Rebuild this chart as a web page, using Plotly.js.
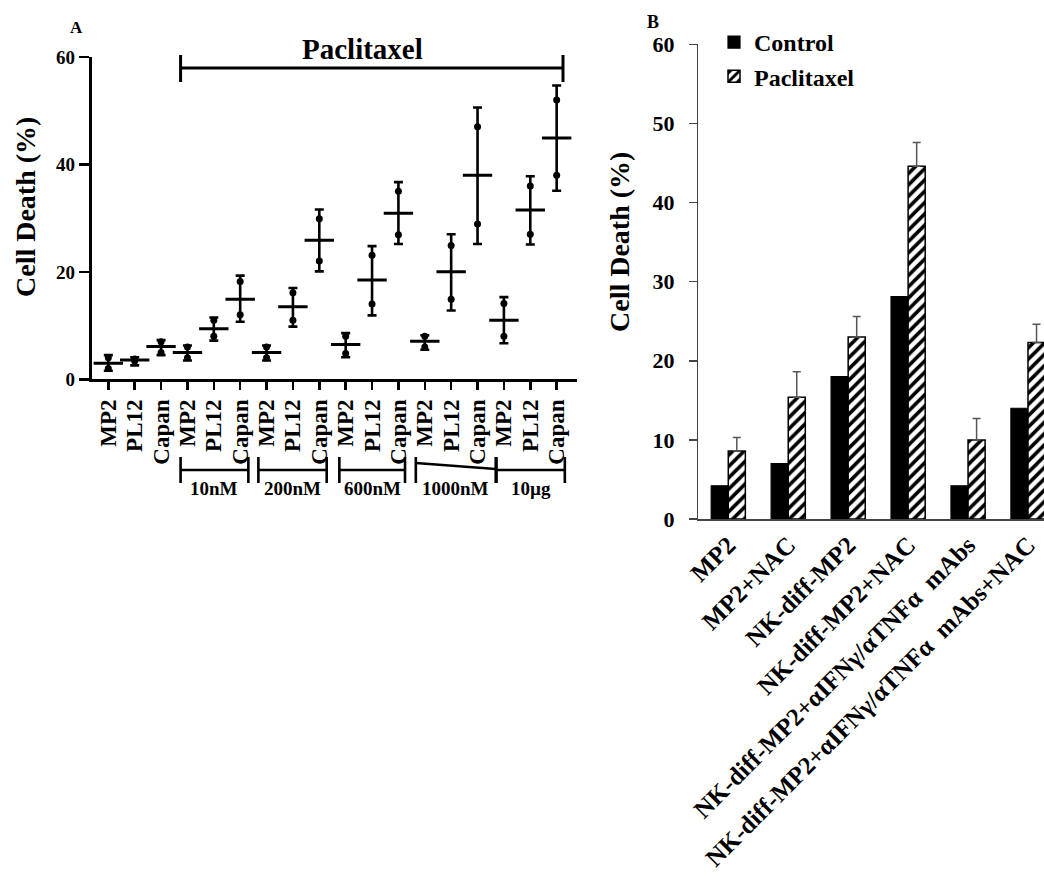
<!DOCTYPE html>
<html>
<head>
<meta charset="utf-8">
<script src="https://cdn.plot.ly/plotly-3.0.1.min.js"></script>
<style>html,body{margin:0;padding:0;background:#fff;}#chart{width:1044px;height:877px;}
#chart .legendtext{font-family:"Liberation Serif","Times New Roman",serif !important;font-weight:bold !important;}</style>
</head>
<body>
<div id="chart"></div>
<script>
// ---------- Panel A data ----------
const cellLinesA = ["MP2","PL12","Capan","MP2","PL12","Capan","MP2","PL12","Capan","MP2","PL12","Capan","MP2","PL12","Capan","MP2","PL12","Capan"];
const meanA = [3.0, 3.6, 6.1, 5.0, 9.4, 14.9, 5.0, 13.5, 25.9, 6.5, 18.5, 30.9, 7.1, 20.0, 38.0, 11.0, 31.5, 44.9];
const highA = [4.5, 4.1, 7.3, 6.3, 11.5, 19.3, 6.3, 17.0, 31.6, 8.6, 24.8, 36.7, 8.2, 27.0, 50.6, 15.3, 37.8, 54.7];
const lowA  = [1.6, 2.6, 4.5, 3.5, 7.2, 10.7, 3.5, 9.8, 20.1, 4.1, 11.9, 25.2, 5.5, 12.8, 25.2, 6.7, 25.1, 35.1];
const pointUpperA = [4.0, 3.8, 7.0, 6.0, 11.0, 18.2, 6.0, 16.1, 29.9, 8.0, 23.1, 35.0, 8.0, 24.9, 47.0, 14.1, 36.0, 52.0];
const pointLowerA = [2.0, 3.4, 5.0, 4.0, 8.0, 12.0, 4.0, 11.0, 22.0, 4.8, 14.0, 26.9, 6.0, 14.9, 28.9, 8.0, 27.0, 38.0];
const concLabelsA = ["10nM","200nM","600nM","1000nM","10µg"];

// ---------- Panel B data ----------
const groupsB = ["MP2","MP2+NAC","NK-diff-MP2","NK-diff-MP2+NAC","NK-diff-MP2+αIFNγ/αTNFα  mAbs","NK-diff-MP2+αIFNγ/αTNFα  mAbs+NAC"];
const controlB = [4.2, 7.0, 18.0, 28.1, 4.2, 14.0];
const paclitaxelB = [8.6, 15.4, 23.0, 44.6, 10.0, 22.3];
const paclitaxelErrB = [1.7, 3.2, 2.6, 3.0, 2.7, 2.3];

// ---------- helpers / layout constants ----------
const W = 1044, H = 877;
const px = x => x / W;
const py = y => 1 - y / H;
const FONT = "Liberation Serif, Times New Roman, serif";
const bold = (size, color) => ({family: FONT, size: size, color: color || "#000", weight: "bold"});
const idxA = cellLinesA.map((_, i) => i);

// bracket geometry (x in category units of panel A, y in pixels)
const bracketStart = [2.74, 5.69, 8.76, 11.66, 14.72];
const bracketEnd   = [5.31, 8.28, 11.25, 14.69, 17.31];
const bracketYL    = [470, 470, 470, 463, 470];
const bracketYR    = [470, 470, 470, 469, 470];

const traces = [
  {
    x: idxA, y: meanA, type: "scatter", mode: "markers", xaxis: "x", yaxis: "y",
    showlegend: false, hoverinfo: "skip",
    marker: {symbol: "line-ew", size: 21, color: "#000", line: {width: 3, color: "#000"}},
    error_y: {type: "data", symmetric: false,
      array: highA.map((h, i) => h - meanA[i]),
      arrayminus: lowA.map((l, i) => meanA[i] - l),
      color: "#000", thickness: 2.6, width: 4.5}
  },
  {
    x: idxA.concat(idxA), y: pointUpperA.concat(pointLowerA), type: "scatter", mode: "markers",
    xaxis: "x", yaxis: "y", showlegend: false, hoverinfo: "skip",
    marker: {symbol: "circle", size: 7, color: "#000"}
  },
  {
    x: groupsB, y: controlB, type: "bar", name: "Control", xaxis: "x2", yaxis: "y2",
    marker: {color: "#000", line: {color: "#000", width: 1.2}}
  },
  {
    x: groupsB, y: paclitaxelB, type: "bar", name: "Paclitaxel", xaxis: "x2", yaxis: "y2",
    marker: {color: "#fff", line: {color: "#000", width: 1.5},
      pattern: {shape: "/", fgcolor: "#000", bgcolor: "#fff", size: 8, solidity: 0.45}},
    error_y: {type: "data", symmetric: false, array: paclitaxelErrB, arrayminus: paclitaxelErrB.map(() => 0),
      color: "#555", thickness: 1.5, width: 4}
  }
];

const shapes = [];
const annotations = [];
const lineStyle = {color: "#000", width: 2.6};
for (let i = 0; i < concLabelsA.length; i++) {
  const a = bracketStart[i], b = bracketEnd[i];
  shapes.push({type: "line", xref: "x", yref: "paper", x0: a, x1: b, y0: py(bracketYL[i]), y1: py(bracketYR[i]), line: lineStyle});
  shapes.push({type: "line", xref: "x", yref: "paper", x0: a, x1: a, y0: py(457), y1: py(483), line: lineStyle});
  shapes.push({type: "line", xref: "x", yref: "paper", x0: b, x1: b, y0: py(457), y1: py(483), line: lineStyle});
  annotations.push({xref: "x", yref: "paper", x: (a + b) / 2, y: py(488), text: concLabelsA[i],
    showarrow: false, xanchor: "center", yanchor: "middle", font: bold(19)});
}
// Paclitaxel bracket on top of panel A
shapes.push({type: "line", xref: "x", yref: "paper", x0: 2.74, x1: 17.24, y0: py(68), y1: py(68), line: {color: "#000", width: 3}});
shapes.push({type: "line", xref: "x", yref: "paper", x0: 2.74, x1: 2.74, y0: py(55), y1: py(82), line: {color: "#000", width: 3}});
shapes.push({type: "line", xref: "x", yref: "paper", x0: 17.24, x1: 17.24, y0: py(55), y1: py(82), line: {color: "#000", width: 3}});

annotations.push(
  {xref: "paper", yref: "paper", x: px(362), y: py(49), text: "Paclitaxel", showarrow: false, xanchor: "center", yanchor: "middle", font: bold(29)},
  {xref: "paper", yref: "paper", x: px(76), y: py(27), text: "A", showarrow: false, xanchor: "center", yanchor: "middle", font: bold(17)},
  {xref: "paper", yref: "paper", x: px(653), y: py(22), text: "B", showarrow: false, xanchor: "center", yanchor: "middle", font: bold(18)},
  {xref: "paper", yref: "paper", x: px(25), y: py(207), text: "Cell Death (%)", textangle: -90, showarrow: false, xanchor: "center", yanchor: "middle", font: bold(28)},
  {xref: "paper", yref: "paper", x: px(620), y: py(242), text: "Cell Death (%)", textangle: -90, showarrow: false, xanchor: "center", yanchor: "middle", font: bold(28)}
);

const layout = {
  width: W, height: H,
  margin: {l: 0, r: 0, t: 0, b: 0},
  font: bold(20),
  paper_bgcolor: "#fff", plot_bgcolor: "rgba(0,0,0,0)",
  showlegend: true,
  barmode: "group", bargap: 0.43, bargroupgap: 0,
  xaxis: {
    domain: [px(91.7), px(576.7)], range: [-0.63, 17.76], anchor: "y",
    tickmode: "array", tickvals: idxA, ticktext: cellLinesA, tickangle: -90,
    ticks: "outside", ticklen: 8, tickwidth: 2.5, tickcolor: "#000",
    showline: true, linewidth: 3, linecolor: "#000", showgrid: false, zeroline: false,
    tickfont: bold(23)
  },
  yaxis: {
    domain: [py(379.3), py(57)], range: [0, 60], anchor: "x",
    tickmode: "array", tickvals: [0, 20, 40, 60],
    ticks: "outside", ticklen: 10, tickwidth: 2.5, tickcolor: "#000",
    showline: true, linewidth: 3, linecolor: "#000", showgrid: false, zeroline: false,
    tickfont: bold(19)
  },
  xaxis2: {
    domain: [px(698.3), 1], range: [-0.5, 5.267], anchor: "y2", type: "category",
    tickangle: -45, ticks: "", showline: true, linewidth: 1.5, linecolor: "#444",
    showgrid: false, zeroline: false, tickfont: bold(25)
  },
  yaxis2: {
    domain: [py(519), py(44.3)], range: [0, 60], anchor: "x2", dtick: 10,
    ticks: "outside", ticklen: 8, tickwidth: 1.5, tickcolor: "#444", ticklabelstandoff: 10,
    showline: true, linewidth: 1.5, linecolor: "#444", showgrid: false, zeroline: false,
    tickfont: bold(22)
  },
  legend: {
    x: px(714), y: py(20), xanchor: "left", yanchor: "top",
    bgcolor: "rgba(0,0,0,0)", font: {family: "Liberation Serif", size: 24, color: "#000", weight: 700},
    itemwidth: 30, tracegroupgap: 0
  },
  shapes: shapes,
  annotations: annotations
};

Plotly.newPlot("chart", traces, layout, {displayModeBar: false, staticPlot: true});
</script>
</body>
</html>
